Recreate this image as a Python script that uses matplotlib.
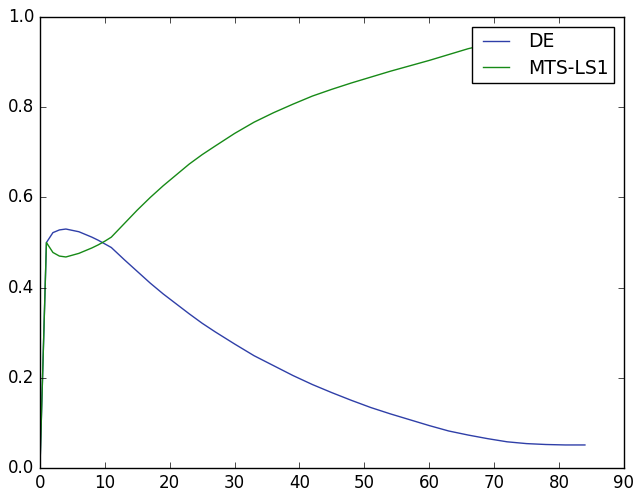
import matplotlib
matplotlib.use("Agg")
from matplotlib import pyplot as plt

plt.style.use("classic")

# readings
de_x = [0, 1, 2, 3, 4, 5, 6, 7, 8, 9, 10, 11, 13, 15, 17, 19, 21, 23, 25, 27,
        30, 33, 36, 39, 42, 45, 48, 51, 54, 57, 60, 63, 66, 69, 72, 75, 78, 81, 84]
de_y = [0.0, 0.50, 0.522, 0.528, 0.530, 0.527, 0.524, 0.518, 0.512, 0.505, 0.497,
        0.489, 0.462, 0.436, 0.410, 0.386, 0.364, 0.342, 0.321, 0.302,
        0.275, 0.249, 0.227, 0.205, 0.185, 0.167, 0.150, 0.134, 0.120, 0.107,
        0.094, 0.082, 0.073, 0.065, 0.058, 0.054, 0.052, 0.051, 0.051]

mts_x = [0, 1, 2, 3, 4, 5, 6, 7, 8, 9, 10, 11, 13, 15, 17, 19, 21, 23, 25, 27,
         30, 33, 36, 39, 42, 45, 48, 51, 54, 57, 60, 63, 66, 69, 72, 75, 78, 81, 84]
mts_y = [0.0, 0.50, 0.478, 0.470, 0.468, 0.472, 0.476, 0.482, 0.488, 0.495, 0.503,
         0.512, 0.542, 0.572, 0.600, 0.626, 0.650, 0.674, 0.695, 0.714,
         0.742, 0.767, 0.788, 0.807, 0.825, 0.840, 0.854, 0.867, 0.880, 0.892,
         0.904, 0.917, 0.930, 0.940, 0.949, 0.957, 0.964, 0.970, 0.975]

fig = plt.figure(figsize=(6.34, 4.9), dpi=100, facecolor="white")
ax = fig.add_axes([0.063, 0.045, 0.921, 0.920])

ax.plot(de_x, de_y, color="#2f3fa8", lw=1.0, label="DE")
ax.plot(mts_x, mts_y, color="#178a17", lw=1.0, label="MTS-LS1")

ax.set_xlim(0, 90)
ax.set_ylim(0, 1.0)
ax.set_xticks(range(0, 91, 10))
ax.set_yticks([0.0, 0.2, 0.4, 0.6, 0.8, 1.0])
ax.tick_params(labelsize=12)

ax.legend(loc="upper right", fontsize=13.5, handlelength=2.0, borderpad=0.3,
          labelspacing=0.4, handletextpad=0.7, borderaxespad=0.5)

fig.savefig("out.png", dpi=100, facecolor="white")
